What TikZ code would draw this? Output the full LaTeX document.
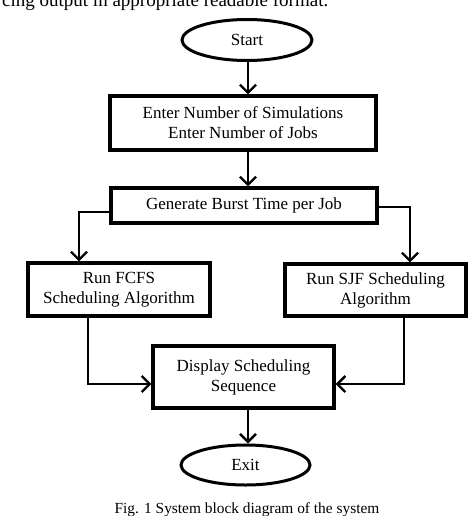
\documentclass[tikz,border=0pt]{standalone}
\usepackage{fontspec}
\setmainfont{Liberation Serif}
\usetikzlibrary{arrows.meta,shapes.geometric}
\begin{document}
\begin{tikzpicture}[x=1pt,y=-1pt,
  boxnode/.style={draw,line width=3.2pt,rectangle,inner sep=0pt,align=center,
    font=\fontsize{17}{20}\selectfont},
  termnode/.style={draw,line width=3pt,ellipse,inner sep=0pt,
    font=\fontsize{17}{20}\selectfont},
  flow/.style={line width=2.4pt,-{Straight Barb[length=8pt,width=16pt,line width=2.4pt]}}]
\useasboundingbox (0,0) rectangle (474,516);
\node[anchor=base west,font=\fontsize{19}{22}\selectfont,inner sep=0pt] (top) at (2,7) {cing output in appropriate readable format.};
\node[termnode,minimum width=130pt,minimum height=41pt] (start) at (247,40) {Start};
\node[boxnode,minimum width=266pt,minimum height=54pt] (b1) at (243,123) {Enter Number of Simulations\\Enter Number of Jobs};
\node[boxnode,minimum width=266pt,minimum height=35pt] (b2) at (244,205.5) {Generate Burst Time per Job};
\node[boxnode,minimum width=182pt,minimum height=53pt] (b3) at (119,289.5) {Run FCFS\\Scheduling Algorithm};
\node[boxnode,minimum width=181pt,minimum height=52pt] (b4) at (375.5,290) {Run SJF Scheduling\\Algorithm};
\node[boxnode,minimum width=181pt,minimum height=62pt] (b5) at (243.5,377) {Display Scheduling\\Sequence};
\node[termnode,minimum width=129pt,minimum height=40pt] (exit) at (245.5,465) {Exit};
\node[font=\fontsize{15.4}{18}\selectfont,inner sep=0pt] (cap) at (247,510) {Fig. 1 System block diagram of the system};
\draw[flow] (start.south -| 248,0) -- (b1.north -| 248,0);
\draw[flow] (b1.south -| 248,0) -- (b2.north -| 248,0);
\draw[flow] (b2.west |- 0,212) -| (b3.north -| 79,0);
\draw[flow] (b2.east |- 0,207) -| (b4.north -| 410,0);
\draw[flow] (b3.south -| 88,0) |- (b5.west |- 0,384);
\draw[flow] (b4.south -| 404,0) |- (b5.east |- 0,384);
\draw[flow] (b5.south -| 248,0) -- (exit.north -| 248,0);
\end{tikzpicture}
\end{document}
